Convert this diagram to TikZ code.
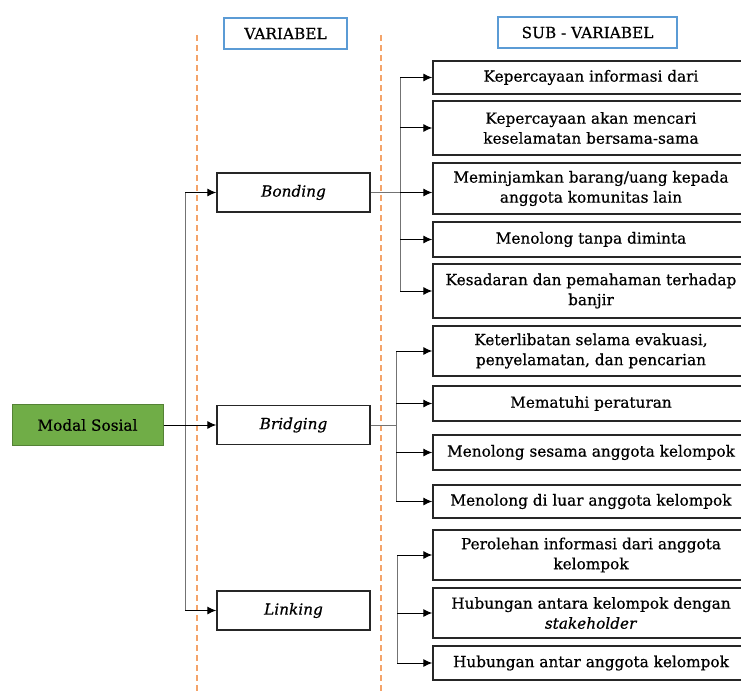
\documentclass[tikz,border=0pt]{standalone}
\usepackage{fontspec}
\setmainfont{DejaVu Serif}[FakeBold=0.6]
\usepackage{tikz}
\usetikzlibrary{positioning, arrows.meta, calc}

\definecolor{ModalGreen}{HTML}{70AD47}
\definecolor{ModalEdge}{HTML}{548235}
\definecolor{HeadBlue}{HTML}{5B9BD5}
\definecolor{SplitOrange}{HTML}{F4A46A}

\tikzset{
    txt/.style={font=\fontsize{15.3}{20}\selectfont},
    head/.style={txt, draw=HeadBlue, line width=1.2pt, inner sep=0pt},
    varbox/.style={draw=black!85, line width=1.4pt, minimum width=153pt, minimum height=39pt, inner sep=0pt, font=\fontsize{15.3}{20}\selectfont\itshape},
    subbox/.style={txt, draw=black!85, line width=1.4pt, minimum width=316pt, align=center, inner sep=0pt},
    tree/.style={draw=black!55, line width=0.9pt},
    arr/.style={draw=black, line width=1pt, -{Latex[length=9pt, width=8pt]}},
    split/.style={draw=SplitOrange, line width=1.3pt, dash pattern=on 6pt off 4pt}
}

\begin{document}
\begin{tikzpicture}[x=1pt, y=-1pt]
    \useasboundingbox (0,0) rectangle (741,695);

    % dashed column borders
    \draw[split] (197,35) -- (197,695);
    \draw[split] (381,35) -- (381,695);

    % headers
    \node[head, minimum width=123pt, minimum height=31pt] (hvar) at (285.5,33.5) {VARIABEL};
    \node[head, minimum width=179pt, minimum height=31pt] (hsub) at (587.5,32.5) {SUB - VARIABEL};

    % modal sosial and variables
    \node[txt, fill=ModalGreen, draw=ModalEdge, line width=1pt, minimum width=151pt, minimum height=41pt, inner sep=0pt] (modal) at (87.5,425) {Modal Sosial};
    \node[varbox] (bonding) at (293.5,192.5) {Bonding};
    \node[varbox] (bridging) at (293.5,425) {Bridging};
    \node[varbox] (linking) at (293.5,610.5) {Linking};

    % sub-variables
    \foreach \name/\yc/\h/\label in {
        s1/77.5/33/{Kepercayaan informasi dari},
        s2/128/54/{Kepercayaan akan mencari\\keselamatan bersama-sama},
        s3/188.5/51/{Meminjamkan barang/uang kepada\\anggota komunitas lain},
        s4/239.5/35/{Menolong tanpa diminta},
        s5/291/54/{Kesadaran dan pemahaman terhadap\\banjir},
        s6/351/50/{Keterlibatan selama evakuasi,\\penyelamatan, dan pencarian},
        s7/403.5/35/{Mematuhi peraturan},
        s8/452.5/35/{Menolong sesama anggota kelompok},
        s9/501.5/33/{Menolong di luar anggota kelompok},
        s10/555/50/{Perolehan informasi dari anggota\\kelompok},
        s11/613/50/{Hubungan antara kelompok dengan\\\textit{stakeholder}},
        s12/663/34/{Hubungan antar anggota kelompok}}{
        \node[subbox, minimum height=\h pt] (\name) at (591,\yc) {\label};
    }

    % trunk from modal sosial
    \coordinate (tk1) at (185,192.5);
    \coordinate (tk3) at (185,610.5);
    \draw[tree] (tk1) -- (tk3);
    \draw[arr] (tk1) -- (bonding.west);
    \draw[arr] (modal.east) -- (bridging.west);
    \draw[arr] (tk3) -- (linking.west);

    % brackets to sub-variables
    \foreach \bx/\first/\last/\list in {
        400/s1/s5/{s1,s2,s4,s5},
        396/s6/s9/{s6,s7,s8,s9},
        397/s10/s12/{s10,s11,s12}}{
        \draw[tree] (\first.west -| \bx,0) -- (\last.west -| \bx,0);
        \foreach \s in \list {
            \draw[arr] (\s.west -| \bx,0) -- (\s.west);
        }
    }
    \coordinate (bk1) at (400,192.5);
    \draw[tree] (bonding.east) -- (bk1);
    \draw[arr] (bk1) -- (bonding.east -| s3.west);
    \draw[tree] (bridging.east) -- (bridging.east -| 396,0);
\end{tikzpicture}
\end{document}
